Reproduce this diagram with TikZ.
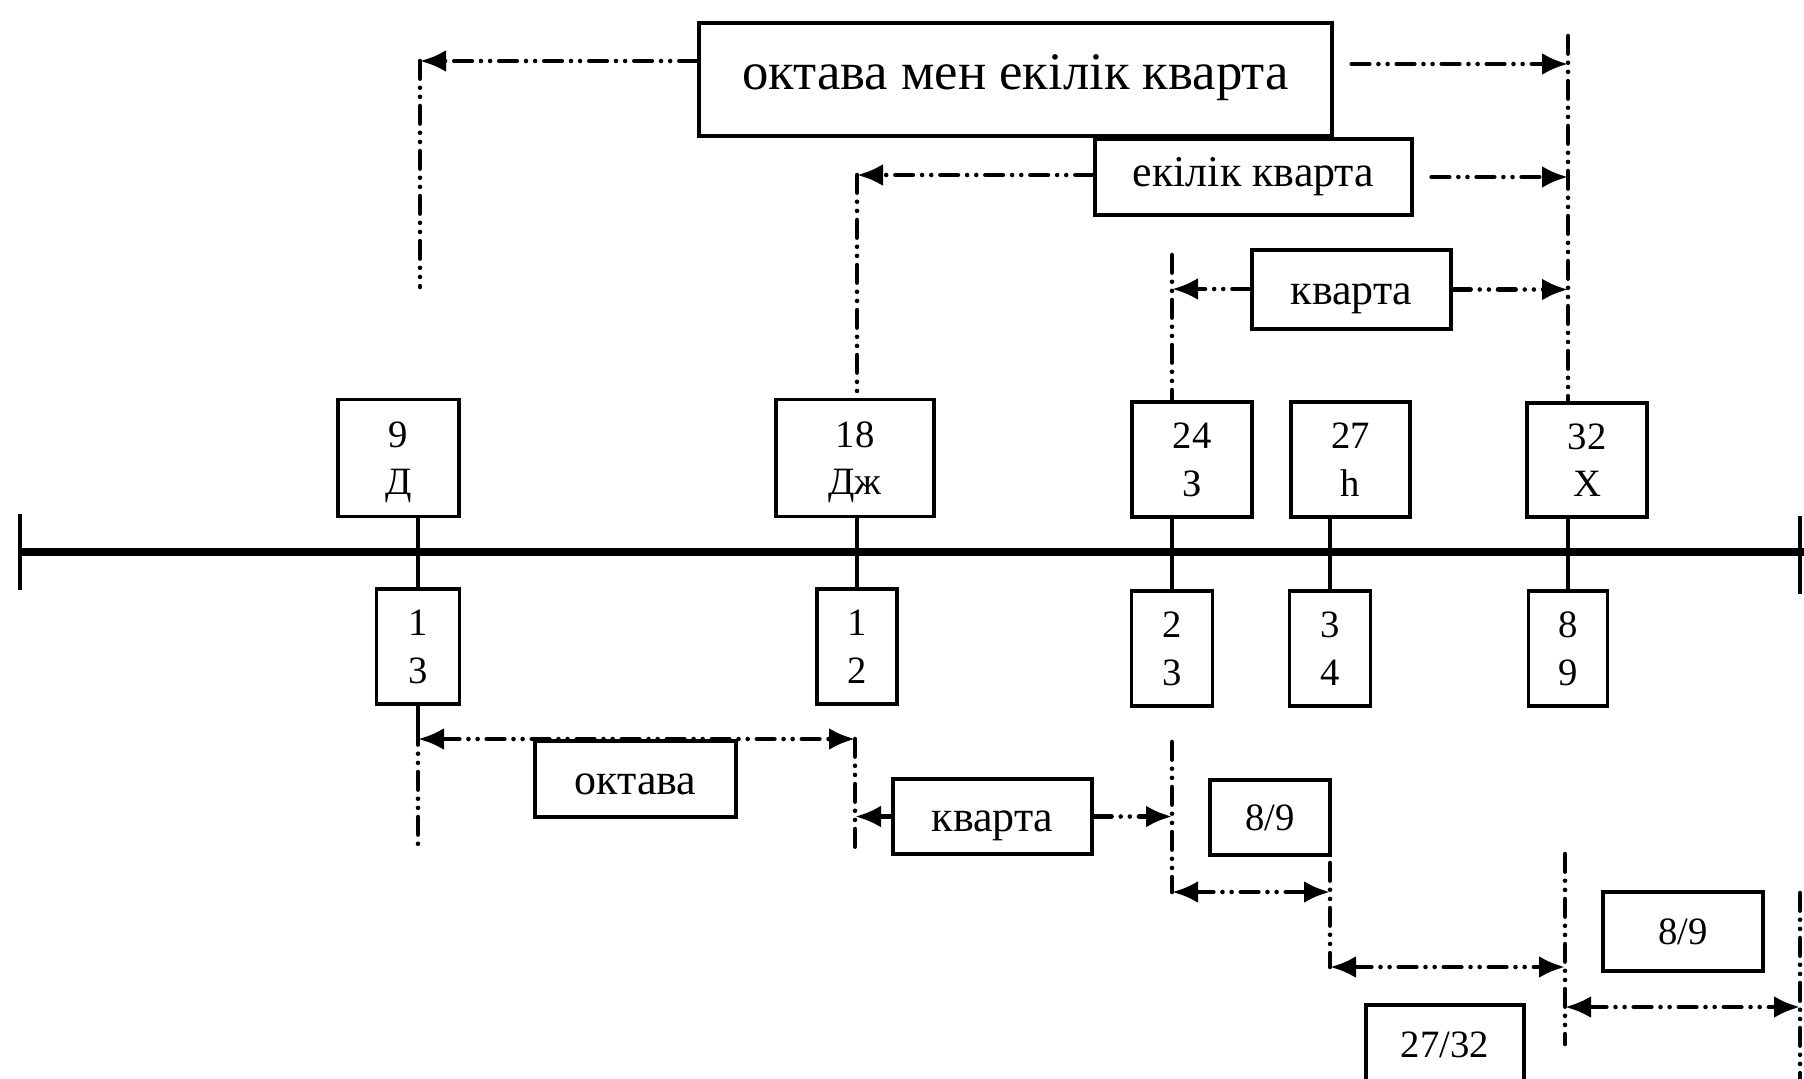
\documentclass[tikz,border=0pt]{standalone}
\usepackage{fontspec}
\setmainfont{Liberation Serif}
\usetikzlibrary{arrows.meta, positioning}

\begin{document}
\begin{tikzpicture}[x=0.01cm, y=-0.01cm, >={Latex[length=2.6mm,width=2.2mm]},
    box/.style={draw, line width=1.1pt, inner sep=0pt, align=center},
    numbox/.style={box, font=\fontsize{11}{13.5}\selectfont, text depth=-1.5pt},
    lbl/.style={box, font=\fontsize{12.5}{15}\selectfont, text height=2.4ex, text depth=0.5ex},
    dd/.style={line width=1.3pt, line cap=round, dash pattern=on 5pt off 2.6pt on 0pt off 2.6pt on 0pt off 2.6pt},
    stem/.style={line width=0.9pt}]
    \useasboundingbox (0,0) rectangle (1804,1078);
    % Axis
    \coordinate (axL) at (20,552);
    \coordinate (axR) at (1804,552);
    \draw[line width=2.4pt] (axL) -- (axR);
    \draw[line width=1.3pt] (axL) ++(0,-38) -- ++(0,76);
    \draw[line width=1.3pt] (1800,516) -- (1800,594);
    % Stem positions on the axis
    \coordinate (s9) at (418,552);
    \coordinate (s18) at (857,552);
    \coordinate (s24) at (1172,552);
    \coordinate (s27) at (1330,552);
    \coordinate (s32) at (1568,552);
    % Note boxes (above)
    \node[numbox, minimum width=1.21cm, minimum height=1.17cm] (n9) at (398.5,458) {9\\Д};
    \node[numbox, minimum width=1.58cm, minimum height=1.17cm] (n18) at (855,458) {18\\Дж};
    \node[numbox, minimum width=1.20cm, minimum height=1.15cm] (n24) at (1192,459.5) {24\\З};
    \node[numbox, minimum width=1.19cm, minimum height=1.15cm] (n27) at (1350.5,459.5) {27\\һ};
    \node[numbox, minimum width=1.20cm, minimum height=1.14cm] (n32) at (1587,460) {32\\Х};
    % Ratio boxes (below)
    \node[numbox, minimum width=0.83cm, minimum height=1.15cm] (r13) at (418,646.5) {1\\3};
    \node[numbox, minimum width=0.80cm, minimum height=1.15cm] (r12) at (857,646.5) {1\\2};
    \node[numbox, minimum width=0.81cm, minimum height=1.15cm] (r23) at (1172,648.5) {2\\3};
    \node[numbox, minimum width=0.81cm, minimum height=1.15cm] (r34) at (1330,648.5) {3\\4};
    \node[numbox, minimum width=0.79cm, minimum height=1.15cm] (r89) at (1568,648.5) {8\\9};
    % Stems through the axis
    \foreach \u/\l/\s in {n9/r13/s9, n18/r12/s18, n24/r23/s24, n27/r34/s27, n32/r89/s32}
        \draw[stem] (\u.south -| \s) -- (\l.north);
    % Interval labels (top)
    \node[box, minimum width=6.33cm, minimum height=1.13cm, font=\fontsize{15}{18}\selectfont, text height=1.7ex, text depth=0.5ex] (okek) at (1015.5,79.5) {октава мен екілік кварта};
    \node[lbl, minimum width=3.17cm, minimum height=0.76cm, text height=1.7ex] (ek) at (1253.5,177) {екілік кварта};
    \node[lbl, minimum width=1.99cm, minimum height=0.79cm] (kv) at (1351.5,289.5) {кварта};
    % Brackets (top)
    \coordinate (t1) at (420,61);
    \coordinate (t1e) at (420,287);
    \coordinate (t2) at (857,175);
    \coordinate (t3) at (1172,289);
    \coordinate (t3e) at (1172,255);
    \coordinate (tr) at (1568,36);
    \draw[dd,->] (okek.west |- t1) -- (t1);
    \draw[dd] (t1) -- (t1e);
    \draw[dd,->, shorten <=5pt] (okek.east |- 0,64) -- (s32 |- 0,64);
    \draw[dd] (tr) -- (n32.north -| s32);
    \draw[dd,->] (ek.west |- t2) -- (t2);
    \draw[dd] (t2) -- (n18.north -| s18);
    \draw[dd,->, shorten <=5pt] (ek.east) -- (s32 |- ek.east);
    \draw[dd,->] (kv.west |- t3) -- (t3);
    \draw[dd] (t3e) -- (n24.north -| s24);
    \draw[dd,->] (kv.east) -- (s32 |- kv.east);
    % Interval labels (bottom)
    \node[lbl, minimum width=2.01cm, minimum height=0.76cm] (okt) at (635.5,779) {октава};
    \node[lbl, minimum width=1.99cm, minimum height=0.75cm] (kv2) at (992.5,816.5) {кварта};
    \node[numbox, minimum width=1.20cm, minimum height=0.75cm] (t89a) at (1270,817.5) {8/9};
    \node[numbox, minimum width=1.58cm, minimum height=0.80cm] (t2732) at (1445,1045) {27/32};
    \node[numbox, minimum width=1.60cm, minimum height=0.79cm] (t89b) at (1683,931.5) {8/9};
    % Brackets (bottom)
    \coordinate (b1) at (418,739);
    \coordinate (b2) at (855,739);
    \coordinate (b1e) at (418,845);
    \coordinate (b2e) at (855,851);
    \draw[stem] (r13.south) -- ++(0,21);
    \draw[dd] (r13.south) ++(0,21) -- (b1e);
    \draw[dd,<->] (b1) -- (b2);
    \draw[dd] (b2) -- (b2e);
    \draw[dd,->] (kv2.west) -- (b2 |- kv2.west);
    \draw[dd,->] (kv2.east) -- (s24 |- kv2.east);
    \coordinate (c1) at (1172,742);
    \coordinate (c2) at (1172,892);
    \coordinate (c3) at (1330,892);
    \coordinate (c3t) at (1330,863);
    \coordinate (c4) at (1330,967);
    \coordinate (c5) at (1565,967);
    \coordinate (c5t) at (1565,854);
    \coordinate (c5e) at (1565,1044);
    \coordinate (c6) at (1565,1007);
    \coordinate (c7) at (1800,1007);
    \coordinate (c7t) at (1800,893);
    \coordinate (c7e) at (1800,1078);
    \draw[dd] (c1) -- (c2);
    \draw[dd,<->] (c2) -- (c3);
    \draw[dd] (c3t) -- (c4);
    \draw[dd,<->] (c4) -- (c5);
    \draw[dd] (c5t) -- (c5e);
    \draw[dd,<->] (c6) -- (c7);
    \draw[dd] (c7t) -- (c7e);
\end{tikzpicture}
\end{document}
